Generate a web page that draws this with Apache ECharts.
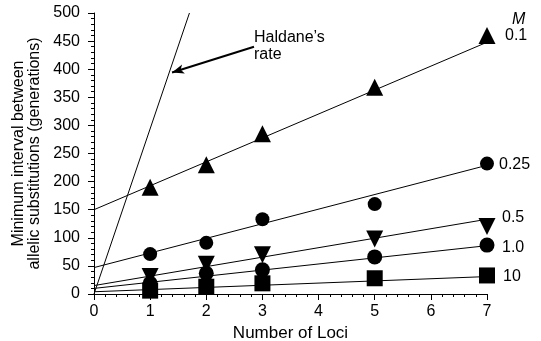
<!DOCTYPE html>
<html>
<head>
<meta charset="utf-8">
<script src="https://cdn.jsdelivr.net/npm/echarts@6/dist/echarts.min.js"></script>
<style>
  html, body { margin: 0; padding: 0; background: #fff; }
  #chart { width: 541px; height: 341px; }
</style>
</head>
<body>
<div id="chart"></div>
<script>
// number of loci where points were measured
const loci = [1, 2, 3, 5, 7];

// minimum interval (generations) for each M
const m01 = [190, 230, 285, 368, 460];
const m025 = [71, 91, 133, 160, 232];
const m05 = [31, 53, 70, 98, 120];
const m1 = [19, 37, 43, 66, 87];
const m10 = [6, 13, 19, 28, 33];

// fitted lines, value at x = 0 and x = 7
const fitX = [0, 7];
const fit01 = [150, 448];
const fit025 = [47, 229];
const fit05 = [15, 133];
const fit1 = [10, 86];
const fit10 = [4, 31];

// Haldane's rate line
const haldaneX = [0, 1.7];
const haldaneY = [0, 500];

const yTicks = [0, 50, 100, 150, 200, 250, 300, 350, 400, 450, 500];
const xTicks = [0, 1, 2, 3, 4, 5, 6, 7];

const font = "'Liberation Sans', Arial, sans-serif";

function pairs(xs, ys) {
  return xs.map((x, i) => [x, ys[i]]);
}

function fitLine(ys) {
  return {
    type: "line",
    data: pairs(fitX, ys),
    showSymbol: false,
    silent: true,
    lineStyle: { color: "#000", width: 1 },
    z: 2,
  };
}

function points(ys, symbol, size, rotate) {
  return {
    type: "scatter",
    data: pairs(loci, ys),
    symbol: symbol,
    symbolSize: size,
    symbolRotate: rotate || 0,
    itemStyle: { color: "#000", opacity: 1 },
    z: 3,
  };
}

const chart = echarts.init(document.getElementById("chart"));

chart.setOption({
  animation: false,
  backgroundColor: "#fff",
  textStyle: { fontFamily: font },
  grid: { left: 94, right: 54, top: 13, bottom: 47, containLabel: false, outerBoundsMode: "none" },
  xAxis: {
    type: "value",
    min: xTicks[0],
    max: xTicks[xTicks.length - 1],
    interval: 1,
    name: "Number of Loci",
    nameLocation: "middle",
    nameGap: 27,
    nameTextStyle: { fontSize: 17, color: "#000", fontFamily: font },
    axisLine: { lineStyle: { color: "#000", width: 1 } },
    axisTick: { length: 6, lineStyle: { color: "#000" } },
    minorTick: { show: true, splitNumber: 5, length: 3, lineStyle: { color: "#000" } },
    axisLabel: { fontSize: 16, color: "#000", margin: 10, fontFamily: font },
    splitLine: { show: false },
  },
  yAxis: {
    type: "value",
    min: yTicks[0],
    max: yTicks[yTicks.length - 1],
    interval: 50,
    name: "Minimum interval between\nallelic substitutions (generations)",
    nameLocation: "middle",
    nameRotate: 90,
    nameGap: 48,
    nameTextStyle: { fontSize: 16, color: "#000", lineHeight: 16, fontFamily: font },
    axisLine: { show: true, lineStyle: { color: "#000", width: 1 } },
    axisTick: { show: true, length: 6, lineStyle: { color: "#000" } },
    minorTick: { show: true, splitNumber: 5, length: 3, lineStyle: { color: "#000" } },
    axisLabel: { fontSize: 16, color: "#000", margin: 14, fontFamily: font },
    splitLine: { show: false },
  },
  series: [
    {
      type: "line",
      data: pairs(haldaneX, haldaneY),
      showSymbol: false,
      silent: true,
      lineStyle: { color: "#000", width: 1 },
      markLine: {
        silent: true,
        symbol: ["none", "arrow"],
        symbolSize: [7, 12],
        label: { show: false },
        lineStyle: { color: "#000", width: 2, type: "solid" },
        data: [[{ coord: [2.85, 440] }, { coord: [1.39, 394] }]],
      },
      z: 2,
    },
    fitLine(fit01),
    fitLine(fit025),
    fitLine(fit05),
    fitLine(fit1),
    fitLine(fit10),
    points(m01, "triangle", 17),
    points(m025, "circle", 14),
    points(m05, "triangle", 17, 180),
    points(m1, "circle", 15),
    points(m10, "rect", 16),
  ],
  graphic: [
    { type: "text", left: 254, top: 29, style: { text: "Haldane\u2019s\nrate", fontSize: 16, lineHeight: 17, fill: "#000", fontFamily: font } },
    { type: "text", left: 512, top: 12, style: { text: "M", fontSize: 16, fontStyle: "italic", fill: "#000", fontFamily: font } },
    { type: "text", left: 505, top: 28, style: { text: "0.1", fontSize: 16, fill: "#000", fontFamily: font } },
    { type: "text", left: 499, top: 157, style: { text: "0.25", fontSize: 16, fill: "#000", fontFamily: font } },
    { type: "text", left: 502, top: 210, style: { text: "0.5", fontSize: 16, fill: "#000", fontFamily: font } },
    { type: "text", left: 502, top: 240, style: { text: "1.0", fontSize: 16, fill: "#000", fontFamily: font } },
    { type: "text", left: 503, top: 269, style: { text: "10", fontSize: 16, fill: "#000", fontFamily: font } },
  ],
});
</script>
</body>
</html>
